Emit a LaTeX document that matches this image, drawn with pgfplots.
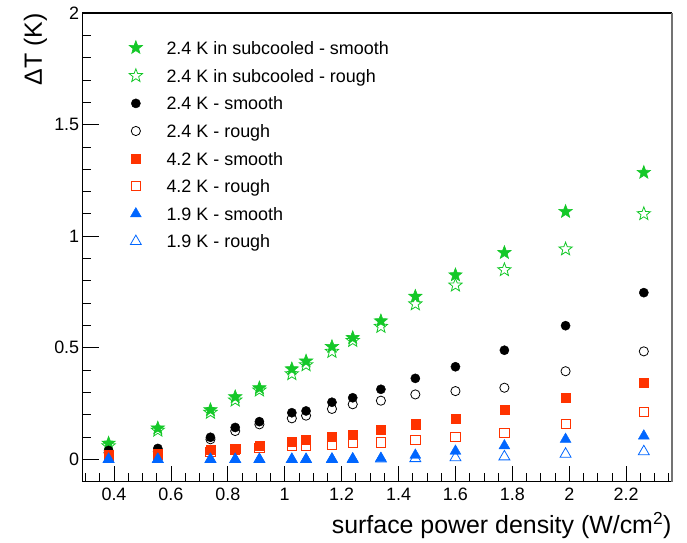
\documentclass[border=0pt]{standalone}
\usepackage{fontspec}
\setmainfont{Liberation Sans}
\usepackage{pgfplots}
\usepackage{pgfplotstable}
\pgfplotsset{compat=1.18}
\definecolor{rgreen}{RGB}{20,200,40}
\definecolor{rred}{RGB}{255,51,0}
\definecolor{rblue}{RGB}{0,102,255}
\pgfdeclareplotmark{fstar}{%
  \pgfpathmoveto{\pgfpointpolar{90}{\pgfplotmarksize}}%
  \pgfpathlineto{\pgfpointpolar{126}{0.42\pgfplotmarksize}}%
  \pgfpathlineto{\pgfpointpolar{162}{\pgfplotmarksize}}%
  \pgfpathlineto{\pgfpointpolar{198}{0.42\pgfplotmarksize}}%
  \pgfpathlineto{\pgfpointpolar{234}{\pgfplotmarksize}}%
  \pgfpathlineto{\pgfpointpolar{270}{0.42\pgfplotmarksize}}%
  \pgfpathlineto{\pgfpointpolar{306}{\pgfplotmarksize}}%
  \pgfpathlineto{\pgfpointpolar{342}{0.42\pgfplotmarksize}}%
  \pgfpathlineto{\pgfpointpolar{18}{\pgfplotmarksize}}%
  \pgfpathlineto{\pgfpointpolar{54}{0.42\pgfplotmarksize}}%
  \pgfpathclose\pgfusepathqfillstroke}
\pgfdeclareplotmark{ostar}{%
  \pgfpathmoveto{\pgfpointpolar{90}{\pgfplotmarksize}}%
  \pgfpathlineto{\pgfpointpolar{126}{0.42\pgfplotmarksize}}%
  \pgfpathlineto{\pgfpointpolar{162}{\pgfplotmarksize}}%
  \pgfpathlineto{\pgfpointpolar{198}{0.42\pgfplotmarksize}}%
  \pgfpathlineto{\pgfpointpolar{234}{\pgfplotmarksize}}%
  \pgfpathlineto{\pgfpointpolar{270}{0.42\pgfplotmarksize}}%
  \pgfpathlineto{\pgfpointpolar{306}{\pgfplotmarksize}}%
  \pgfpathlineto{\pgfpointpolar{342}{0.42\pgfplotmarksize}}%
  \pgfpathlineto{\pgfpointpolar{18}{\pgfplotmarksize}}%
  \pgfpathlineto{\pgfpointpolar{54}{0.42\pgfplotmarksize}}%
  \pgfpathclose\pgfusepathqstroke}
\pgfplotstableread{
x     gs    gr    bs    br    rs    rr    ts    tr
0.381 0.072 0.060 0.040 0.030 0.020 0.015 0.000 0.000
0.554 0.140 0.130 0.049 0.035 0.027 0.020 0.000 0.000
0.739 0.222 0.210 0.099 0.090 0.042 0.035 0.000 0.000
0.826 0.280 0.265 0.143 0.127 0.049 0.042 0.000 0.000
0.911 0.320 0.310 0.169 0.157 0.061 0.050 0.000 0.000
1.025 0.405 0.383 0.209 0.184 0.079 0.060 0.000 0.000
1.075 0.440 0.423 0.217 0.196 0.087 0.062 0.000 0.000
1.166 0.505 0.483 0.256 0.226 0.101 0.067 0.002 0.000
1.239 0.545 0.532 0.276 0.247 0.112 0.074 0.003 0.000
1.338 0.620 0.595 0.314 0.263 0.134 0.076 0.005 0.002
1.459 0.730 0.696 0.363 0.291 0.158 0.087 0.019 0.004
1.600 0.826 0.780 0.415 0.306 0.184 0.099 0.037 0.008
1.772 0.926 0.849 0.489 0.321 0.221 0.117 0.061 0.012
1.987 1.110 0.942 0.599 0.395 0.278 0.158 0.090 0.024
2.262 1.285 1.100 0.747 0.484 0.345 0.214 0.105 0.035
}\datatable
\begin{document}
\begin{tikzpicture}
\path[use as bounding box] (-82.7bp,-61.3bp) rectangle (604.3bp,481.7bp);
\begin{axis}[
  at={(0,0)}, anchor=south west,
  scale only axis, width=589bp, height=468.7bp,
  xmin=0.29, xmax=2.36, ymin=-0.1, ymax=2,
  xtick={0.4,0.6,0.8,1,1.2,1.4,1.6,1.8,2,2.2},
  minor xtick={0.3,0.35,0.45,0.5,0.55,0.65,0.7,0.75,0.85,0.9,0.95,1.05,1.1,1.15,1.25,1.3,1.35,1.45,1.5,1.55,1.65,1.7,1.75,1.85,1.9,1.95,2.05,2.1,2.15,2.25,2.3,2.35},
  ytick={0,0.5,1,1.5,2},
  minor ytick={-0.1,0.1,0.2,0.3,0.4,0.6,0.7,0.8,0.9,1.1,1.2,1.3,1.4,1.6,1.7,1.8,1.9},
  tick pos=left, tick align=inside,
  major tick length=16bp, minor tick length=8.5bp,
  every tick/.append style={black, line width=0.8bp},
  axis line style={line width=1.2bp},
  ticklabel style={font=\fontsize{18}{18}\selectfont},
  xticklabel style={yshift=-3bp},
  /pgf/number format/assume math mode=true,
  xlabel={surface power density (W/cm\textsuperscript{2})},
  xlabel style={at={(rel axis cs:1,0)}, anchor=base east, yshift=-51.3bp, inner sep=0pt, font=\fontsize{25}{25}\selectfont},
  ylabel={ΔT (K)},
  ylabel style={at={([xshift=-40.7bp]rel axis cs:0,1)}, anchor=base east, inner sep=0pt, font=\fontsize{25}{25}\selectfont},
  legend cell align=left,
  legend image code/.code={\path[draw=none, fill=none] (-6bp,-6bp) rectangle (6bp,6bp); \draw[#1] plot[only marks] coordinates {(0bp,0bp)};},
  legend style={draw=none, fill=none, at={(rel axis cs:0,1)}, anchor=north west, xshift=46.3bp, yshift=-27.5bp,
    font=\fontsize{18}{18}\selectfont, row sep=14.6bp, column sep=24bp, inner sep=0pt,
    nodes={inner sep=0pt, text height=13bp, text depth=0bp}},
]
\addplot[only marks, mark=fstar, mark size=7bp, color=rgreen, line width=0.6bp] table[x=x,y=gs]{\datatable};
\addlegendentry{2.4 K in subcooled - smooth}
\addplot[only marks, mark=ostar, mark size=7bp, color=rgreen, line width=0.8bp] table[x=x,y=gr]{\datatable};
\addlegendentry{2.4 K in subcooled - rough}
\addplot[only marks, mark=*, mark size=4.6bp, color=black] table[x=x,y=bs]{\datatable};
\addlegendentry{2.4 K - smooth}
\addplot[only marks, mark=o, mark size=4.6bp, color=black, line width=0.8bp] table[x=x,y=br]{\datatable};
\addlegendentry{2.4 K - rough}
\addplot[only marks, mark=square*, mark size=4.6bp, color=rred] table[x=x,y=rs]{\datatable};
\addlegendentry{4.2 K - smooth}
\addplot[only marks, mark=square, mark size=4.6bp, color=rred, line width=0.8bp] table[x=x,y=rr]{\datatable};
\addlegendentry{4.2 K - rough}
\addplot[only marks, mark=triangle*, mark size=6.3bp, color=rblue] table[x=x,y=ts]{\datatable};
\addlegendentry{1.9 K - smooth}
\addplot[only marks, mark=triangle, mark size=6.3bp, color=rblue, line width=0.8bp] table[x=x,y=tr]{\datatable};
\addlegendentry{1.9 K - rough}
\end{axis}
\draw[line width=1.5bp, black] (0bp,468.4bp) -- (589bp,468.4bp);
\draw[line width=2bp, black!55] (589bp,0bp) -- (589bp,468.7bp);
\end{tikzpicture}
\end{document}
